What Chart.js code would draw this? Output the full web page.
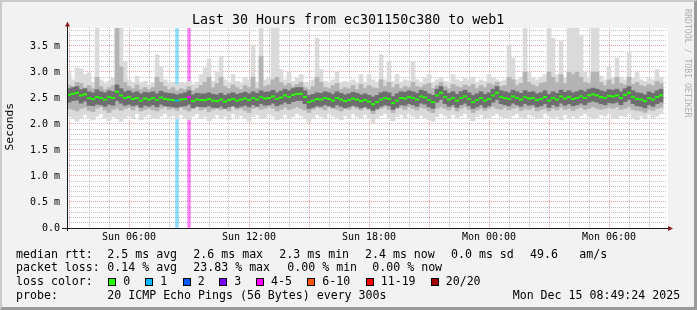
<!DOCTYPE html>
<html>
<head>
<meta charset="utf-8">
<script src="https://cdn.jsdelivr.net/npm/chart.js@4.4.1/dist/chart.umd.min.js"></script>
<style>
  html, body { margin: 0; padding: 0; }
  body { width: 697px; height: 310px; position: relative; overflow: hidden; background: #f2f2f2;
         font-family: 'DejaVu Sans Mono', monospace; color: #000; }
  #chart { position: absolute; left: 0; top: 0; }
  .frame { position: absolute; left: 0; top: 0; width: 697px; height: 310px; box-sizing: border-box;
           border-style: solid; border-width: 2px 3px 3px 2px;
           border-color: #cbcbcb #9a9a9a #9a9a9a #cbcbcb; pointer-events: none; }
  .t { position: absolute; white-space: pre; line-height: 1; font-size: 11.6px; }
  .box { position: absolute; width: 6px; height: 6px; border: 1px solid #000; }
</style>
</head>
<body>
<canvas id="chart" width="697" height="310"></canvas>
<div class="frame"></div>

<div class="t" style="left:192px;top:12.7px;font-size:13.3px">Last 30 Hours from ec301150c380 to web1</div>
<div class="t" style="left:-15px;top:121.3px;width:50px;text-align:center;font-size:11.3px;transform:rotate(-90deg)">Seconds</div>
<div class="t" style="left:638.3px;top:54.9px;width:100px;text-align:center;font-size:8.2px;color:#b0b0b0;transform:rotate(90deg)">RRDTOOL / TOBI OETIKER</div>

<div class="t" style="left:16px;top:249.2px">median rtt:</div>
<div class="t" style="left:107.3px;top:249.2px">2.5 ms avg</div>
<div class="t" style="left:193.3px;top:249.2px">2.6 ms max</div>
<div class="t" style="left:279.3px;top:249.2px">2.3 ms min</div>
<div class="t" style="left:365px;top:249.2px">2.4 ms now</div>
<div class="t" style="left:451px;top:249.2px">0.0 ms sd</div>
<div class="t" style="left:530px;top:249.2px">49.6</div>
<div class="t" style="left:579.3px;top:249.2px">am/s</div>

<div class="t" style="left:16px;top:262.2px">packet loss:</div>
<div class="t" style="left:107.3px;top:262.2px">0.14 % avg</div>
<div class="t" style="left:193.3px;top:262.2px">23.83 % max</div>
<div class="t" style="left:287.3px;top:262.2px">0.00 % min</div>
<div class="t" style="left:372.3px;top:262.2px">0.00 % now</div>

<div class="t" style="left:16px;top:276px">loss color:</div>
<div id="lossrow"></div>

<div class="t" style="left:16px;top:289.9px">probe:</div>
<div class="t" style="left:107.3px;top:289.9px">20 ICMP Echo Pings (56 Bytes) every 300s</div>
<div class="t" style="left:512.7px;top:289.9px">Mon Dec 15 08:49:24 2025</div>

<script>
// time axis in hours since Sun 00:00, graph covers Sun 02:54 .. Mon 08:54
const xStart = 2.9, xEnd = 32.9;
const sampleStart = 3.0, sampleStep = 0.2;
const tickHours = [6, 12, 18, 24, 30];
const tickLabels = ['Sun 06:00', 'Sun 12:00', 'Sun 18:00', 'Mon 00:00', 'Mon 06:00'];
const yMax = 3.846; // ms

// median rtt (ms)
const med = [
  2.56,2.58,2.6,2.55,2.57,2.5,2.48,2.52,2.5,2.47,
  2.52,2.5,2.62,2.55,2.5,2.52,2.48,2.5,2.45,2.49,
  2.47,2.5,2.46,2.51,2.48,2.47,2.46,2.45,2.47,2.48,
  2.52,2.44,2.47,2.46,2.46,2.48,2.45,2.44,2.47,2.43,
  2.46,2.48,2.45,2.47,2.49,2.46,2.5,2.47,2.52,2.49,
  2.5,2.53,2.48,2.51,2.55,2.52,2.56,2.58,2.58,2.52,
  2.42,2.45,2.48,2.47,2.5,2.48,2.45,2.5,2.47,2.44,
  2.46,2.49,2.47,2.44,2.46,2.43,2.38,2.42,2.47,2.5,
  2.48,2.4,2.45,2.5,2.49,2.52,2.5,2.47,2.53,2.51,
  2.46,2.42,2.55,2.6,2.52,2.47,2.5,2.45,2.5,2.53,
  2.48,2.42,2.46,2.5,2.45,2.48,2.55,2.6,2.52,2.5,
  2.48,2.53,2.5,2.47,2.52,2.49,2.5,2.46,2.48,2.52,
  2.45,2.5,2.47,2.53,2.49,2.52,2.48,2.5,2.53,2.5,
  2.55,2.57,2.55,2.52,2.5,2.54,2.53,2.55,2.5,2.56,
  2.6,2.52,2.48,2.47,2.44,2.5,2.47,2.52,2.55
];
// slowest / fastest ping of each step (ms)
const hi = [
  3.0,2.85,3.08,3.06,2.95,2.98,2.8,3.9,2.85,2.78,
  2.82,2.88,3.9,3.9,3.2,2.85,2.8,2.92,2.78,2.82,
  2.75,2.8,3.33,3.1,2.85,2.78,2.8,2.75,2.8,2.78,
  2.82,2.76,2.8,2.95,3.08,3.25,2.82,3.0,3.3,2.85,
  2.8,2.95,2.82,2.78,2.9,2.85,3.52,2.8,3.9,2.85,
  2.88,3.9,3.9,3.05,2.85,3.0,2.82,2.88,2.95,2.8,
  2.78,2.85,3.65,3.05,2.82,2.8,2.85,3.0,2.78,2.82,
  2.8,2.85,2.78,2.95,2.8,2.95,2.85,2.8,3.33,2.85,
  3.2,2.82,2.95,2.8,2.85,2.82,3.2,2.85,2.8,2.88,
  2.95,2.8,2.85,2.9,2.82,2.8,2.95,2.85,2.82,2.88,
  2.85,2.9,2.8,2.85,2.82,2.95,2.88,2.85,2.82,2.85,
  3.52,3.27,2.85,2.9,3.9,3.0,2.88,2.85,2.9,2.95,
  3.9,3.65,2.95,3.6,2.9,3.9,3.9,3.9,3.7,3.0,
  2.9,3.9,3.9,2.92,2.85,3.1,2.88,3.27,2.9,2.85,
  3.37,2.88,3.0,2.85,2.82,2.88,2.85,3.05,2.9
];
const lo = [
  2.15,2.1,2.05,2.12,2.18,2.1,2.08,2.15,2.2,2.12,
  2.06,2.14,2.1,2.05,2.12,2.16,2.1,2.2,2.08,2.14,
  2.18,2.12,2.1,2.15,2.2,2.13,2.16,2.1,2.18,2.12,
  2.08,2.15,2.2,2.1,2.14,2.06,2.12,2.18,2.1,2.15,
  2.08,2.2,2.12,2.16,2.1,2.05,2.14,2.18,2.1,2.12,
  2.2,2.15,2.08,2.12,2.18,2.1,2.14,2.2,2.16,2.1,
  2.05,2.12,2.18,2.14,2.1,2.2,2.15,2.12,2.08,2.16,
  2.1,2.2,2.14,2.12,2.18,2.1,2.02,2.12,2.16,2.2,
  2.1,2.06,2.14,2.18,2.12,2.2,2.15,2.1,2.16,2.12,
  2.08,2.05,2.14,2.2,2.16,2.1,2.18,2.12,2.15,2.2,
  2.1,2.06,2.14,2.18,2.12,2.1,2.16,2.2,2.14,2.12,
  2.1,2.16,2.2,2.13,2.1,2.18,2.15,2.1,2.12,2.2,
  2.16,2.1,2.14,2.08,2.18,2.12,2.15,2.1,2.16,2.2,
  2.14,2.1,2.12,2.18,2.15,2.2,2.12,2.1,2.16,2.14,
  2.2,2.12,2.08,2.15,2.1,2.18,2.12,2.15,2.2
];
// middle smoke band (ms)
const mhi = [
  2.75,2.72,2.8,2.78,2.7,2.74,2.68,2.9,2.72,2.66,
  2.7,2.74,3.9,3.1,2.8,2.72,2.68,2.75,2.66,2.7,
  2.66,2.7,2.9,2.8,2.72,2.66,2.7,2.64,2.68,2.66,
  2.72,2.64,2.68,2.74,2.8,2.9,2.7,2.78,2.9,2.72,
  2.68,2.75,2.7,2.66,2.74,2.7,2.9,2.68,3.3,2.72,
  2.75,2.85,2.9,2.8,2.74,2.78,2.72,2.76,2.8,2.7,
  2.66,2.72,2.9,2.8,2.7,2.68,2.74,2.78,2.66,2.7,
  2.68,2.74,2.66,2.76,2.68,2.74,2.7,2.68,2.85,2.72,
  2.8,2.7,2.76,2.68,2.72,2.7,2.8,2.72,2.7,2.75,
  2.78,2.68,2.74,2.8,2.72,2.68,2.76,2.72,2.7,2.75,
  2.72,2.76,2.68,2.74,2.7,2.78,2.75,2.8,2.72,2.74,
  2.9,2.85,2.74,2.78,3.0,2.8,2.75,2.72,2.78,2.8,
  3.0,2.9,2.8,2.95,2.78,3.0,2.95,3.0,2.9,2.8,
  2.78,3.0,3.0,2.8,2.74,2.85,2.76,2.9,2.78,2.75,
  2.9,2.76,2.8,2.74,2.72,2.76,2.74,2.82,2.78
];
const mlo = [
  2.3,2.28,2.25,2.3,2.32,2.26,2.24,2.3,2.33,2.27,
  2.22,2.28,2.3,2.26,2.3,2.32,2.27,2.33,2.25,2.28,
  2.3,2.27,2.25,2.3,2.33,2.28,2.3,2.26,2.32,2.28,
  2.25,2.3,2.33,2.27,2.3,2.24,2.28,2.32,2.27,2.3,
  2.25,2.33,2.28,2.3,2.26,2.22,2.3,2.32,2.28,2.3,
  2.33,2.3,2.25,2.28,2.32,2.28,2.3,2.33,2.3,2.27,
  2.22,2.28,2.32,2.3,2.27,2.33,2.3,2.28,2.25,2.3,
  2.28,2.33,2.3,2.27,2.32,2.28,2.2,2.27,2.3,2.33,
  2.28,2.22,2.3,2.32,2.28,2.33,2.3,2.27,2.32,2.3,
  2.25,2.22,2.3,2.33,2.3,2.27,2.32,2.25,2.3,2.33,
  2.28,2.22,2.27,2.3,2.26,2.3,2.33,2.3,2.28,2.32,
  2.27,2.3,2.32,2.26,2.3,2.28,2.32,2.25,2.28,2.3,
  2.25,2.3,2.27,2.32,2.28,2.3,2.26,2.3,2.32,2.28,
  2.3,2.33,2.3,2.28,2.3,2.32,2.3,2.33,2.28,2.3,
  2.33,2.28,2.26,2.25,2.22,2.28,2.26,2.3,2.32
];
// dark core around the median (ms)
const dhi = [
  2.68,2.7,2.72,2.66,2.68,2.62,2.6,2.66,2.62,2.6,
  2.64,2.62,2.75,2.68,2.62,2.64,2.6,2.62,2.58,2.61,
  2.6,2.62,2.58,2.63,2.6,2.59,2.58,2.56,2.58,2.6,
  2.64,2.56,2.59,2.58,2.58,2.6,2.57,2.56,2.59,2.55,
  2.58,2.6,2.57,2.59,2.61,2.58,2.62,2.59,2.64,2.61,
  2.62,2.65,2.6,2.63,2.67,2.64,2.68,2.7,2.7,2.64,
  2.55,2.57,2.6,2.59,2.62,2.6,2.57,2.62,2.59,2.56,
  2.58,2.61,2.59,2.56,2.58,2.55,2.52,2.55,2.6,2.62,
  2.6,2.53,2.58,2.62,2.61,2.64,2.62,2.59,2.65,2.63,
  2.58,2.55,2.67,2.72,2.64,2.59,2.62,2.57,2.62,2.65,
  2.6,2.55,2.58,2.62,2.57,2.6,2.67,2.72,2.64,2.62,
  2.6,2.65,2.62,2.59,2.64,2.61,2.62,2.58,2.6,2.64,
  2.57,2.62,2.59,2.65,2.61,2.64,2.6,2.62,2.65,2.62,
  2.67,2.69,2.67,2.64,2.62,2.66,2.65,2.67,2.62,2.68,
  2.72,2.64,2.6,2.59,2.56,2.62,2.59,2.64,2.67
];
const dlo = [
  2.42,2.45,2.46,2.4,2.44,2.36,2.35,2.38,2.37,2.34,
  2.38,2.36,2.45,2.4,2.36,2.38,2.35,2.37,2.32,2.36,
  2.34,2.37,2.33,2.38,2.35,2.34,2.33,2.32,2.34,2.35,
  2.38,2.31,2.34,2.33,2.33,2.35,2.32,2.31,2.34,2.3,
  2.33,2.35,2.32,2.34,2.36,2.33,2.37,2.34,2.39,2.36,
  2.37,2.4,2.35,2.38,2.42,2.39,2.43,2.45,2.45,2.39,
  2.3,2.32,2.35,2.34,2.37,2.35,2.32,2.37,2.34,2.31,
  2.33,2.36,2.34,2.31,2.33,2.3,2.26,2.3,2.34,2.37,
  2.35,2.28,2.32,2.37,2.36,2.39,2.37,2.34,2.4,2.38,
  2.33,2.3,2.42,2.47,2.39,2.34,2.37,2.32,2.37,2.4,
  2.35,2.3,2.33,2.37,2.32,2.35,2.42,2.47,2.39,2.37,
  2.35,2.4,2.37,2.34,2.39,2.36,2.37,2.33,2.35,2.39,
  2.32,2.37,2.34,2.4,2.36,2.39,2.35,2.37,2.4,2.37,
  2.42,2.44,2.42,2.39,2.37,2.41,2.4,2.42,2.37,2.43,
  2.47,2.39,2.35,2.34,2.31,2.37,2.34,2.39,2.42
];

// steps with packet loss
const lossIdx = [27, 30];
const lossPings = [1, 4];
const lossLabels = ['0', '1', '2', '3', '4-5', '6-10', '11-19', '20/20'];
const lossColors = ['#26ff00', '#00b8ff', '#0059ff', '#7e00ff', '#ff00ff', '#ff5500', '#ff0000', '#a10000'];

const FONT = "'DejaVu Sans Mono', monospace";
const gridGray = 'rgba(143,143,143,0.55)';
const gridRed = 'rgba(222,79,79,0.55)';

const times = med.map((v, i) => +(sampleStart + sampleStep * i).toFixed(1));

function lossBucket(n) {
	if (n <= 3) return n;
	if (n <= 5) return 4;
	if (n <= 10) return 5;
	if (n <= 19) return 6;
	return 7;
}

const medColors = times.map((t, i) => {
	var k = lossIdx.indexOf(i);
	return lossColors[k < 0 ? 0 : lossBucket(lossPings[k])];
});

function band(top, bottom) {
	return top.map((v, i) => ({ x: times[i], y: [bottom[i], v] }));
}

// loss colour legend
const legendBoxX = [108.3, 145.3, 182.7, 219.3, 256, 307.3, 365.7, 430.7];
const lossRow = document.getElementById('lossrow');
lossLabels.forEach((lab, k) => {
	var b = document.createElement('div');
	b.className = 'box';
	b.style.left = legendBoxX[k] + 'px';
	b.style.top = '278.3px';
	b.style.background = lossColors[k];
	lossRow.appendChild(b);
	var t = document.createElement('div');
	t.className = 't';
	t.style.left = (legendBoxX[k] + 15) + 'px';
	t.style.top = '276px';
	t.textContent = lab;
	lossRow.appendChild(t);
});

const frame = {
	id: 'frame',
	beforeDraw(chart) {
		const { ctx, chartArea: a } = chart;
		ctx.save();
		ctx.fillStyle = '#ffffff';
		ctx.fillRect(a.left, a.top, a.right - a.left + 1, a.bottom - a.top);
		ctx.restore();
	},
	afterDraw(chart) {
		const { ctx, chartArea: a } = chart;
		ctx.save();
		ctx.strokeStyle = '#1a1a1a';
		ctx.lineWidth = 1;
		ctx.beginPath();
		ctx.moveTo(a.left - 5, a.bottom + 0.5);
		ctx.lineTo(a.right + 1, a.bottom + 0.5);
		ctx.moveTo(a.left + 0.5, a.bottom + 3);
		ctx.lineTo(a.left + 0.5, a.top - 2);
		ctx.stroke();
		// arrow heads
		ctx.fillStyle = '#8c1c1c';
		ctx.beginPath();
		ctx.moveTo(a.left + 0.5, a.top - 6.5);
		ctx.lineTo(a.left + 3, a.top - 1.5);
		ctx.lineTo(a.left - 2, a.top - 1.5);
		ctx.closePath();
		ctx.fill();
		ctx.beginPath();
		ctx.moveTo(a.right + 6, a.bottom + 0.5);
		ctx.lineTo(a.right + 1, a.bottom - 2);
		ctx.lineTo(a.right + 1, a.bottom + 3);
		ctx.closePath();
		ctx.fill();
		ctx.restore();
	}
};

new Chart(document.getElementById('chart'), {
	type: 'bar',
	data: {
		datasets: [
			{
				type: 'line',
				data: med.map((v, i) => ({ x: times[i], y: v })),
				showLine: false,
				pointStyle: 'line',
				pointRadius: 2,
				pointBorderWidth: 2,
				pointBorderColor: medColors,
				order: 0
			},
			{ data: band(dhi, dlo), backgroundColor: '#6e6e6e', order: 1 },
			{ data: band(mhi, mlo), backgroundColor: '#b3b3b3', order: 2 },
			{ data: band(hi, lo), backgroundColor: '#dadada', order: 3 },
			{
				data: lossIdx.map(i => ({ x: times[i], y: [0, yMax] })),
				backgroundColor: lossPings.map(n => lossColors[lossBucket(n)] + '70'),
				barThickness: 3,
				order: 4
			}
		]
	},
	options: {
		responsive: false,
		animation: false,
		devicePixelRatio: 1,
		layout: { padding: { left: 0, top: 28, right: 30, bottom: 64 } },
		datasets: {
			bar: { grouped: false, barPercentage: 1, categoryPercentage: 1, borderWidth: 0 }
		},
		plugins: {
			legend: { display: false },
			tooltip: { enabled: false },
			title: { display: false }
		},
		scales: {
			x: {
				type: 'linear',
				min: xStart,
				max: xEnd,
				offset: false,
				afterFit: s => { s.height = 18; },
				afterBuildTicks: s => {
					var t = [];
					for (var h = Math.ceil(xStart); h <= xEnd; h++) t.push({ value: h });
					s.ticks = t;
				},
				grid: {
					offset: false,
					drawTicks: false,
					lineWidth: 1,
					color: c => (c.tick && c.tick.value % 3 === 0 ? gridRed : gridGray)
				},
				border: { display: false, dash: [1, 1] },
				ticks: {
					autoSkip: false,
					maxRotation: 0,
					minRotation: 0,
					padding: 3,
					color: '#000',
					font: { family: FONT, size: 10 },
					callback: v => {
						var k = tickHours.indexOf(v);
						return k >= 0 ? tickLabels[k] : '';
					}
				}
			},
			y: {
				type: 'linear',
				min: 0,
				max: yMax,
				afterFit: s => { s.width = 67; },
				afterBuildTicks: s => {
					var t = [];
					for (var i = 0; i / 10 <= yMax; i++) t.push({ value: i / 10 });
					s.ticks = t;
				},
				grid: {
					drawTicks: false,
					lineWidth: 1,
					color: c => (c.tick && Math.round(c.tick.value * 10) % 5 === 0 ? gridRed : gridGray)
				},
				border: { display: false, dash: [1, 1] },
				ticks: {
					autoSkip: false,
					padding: 7,
					color: '#000',
					font: { family: FONT, size: 10 },
					callback: v => {
						var n = Math.round(v * 10);
						if (n % 5 !== 0) return '';
						return n === 0 ? '0.0' : (n / 10).toFixed(1) + ' m';
					}
				}
			}
		}
	},
	plugins: [frame]
});
</script>
</body>
</html>
